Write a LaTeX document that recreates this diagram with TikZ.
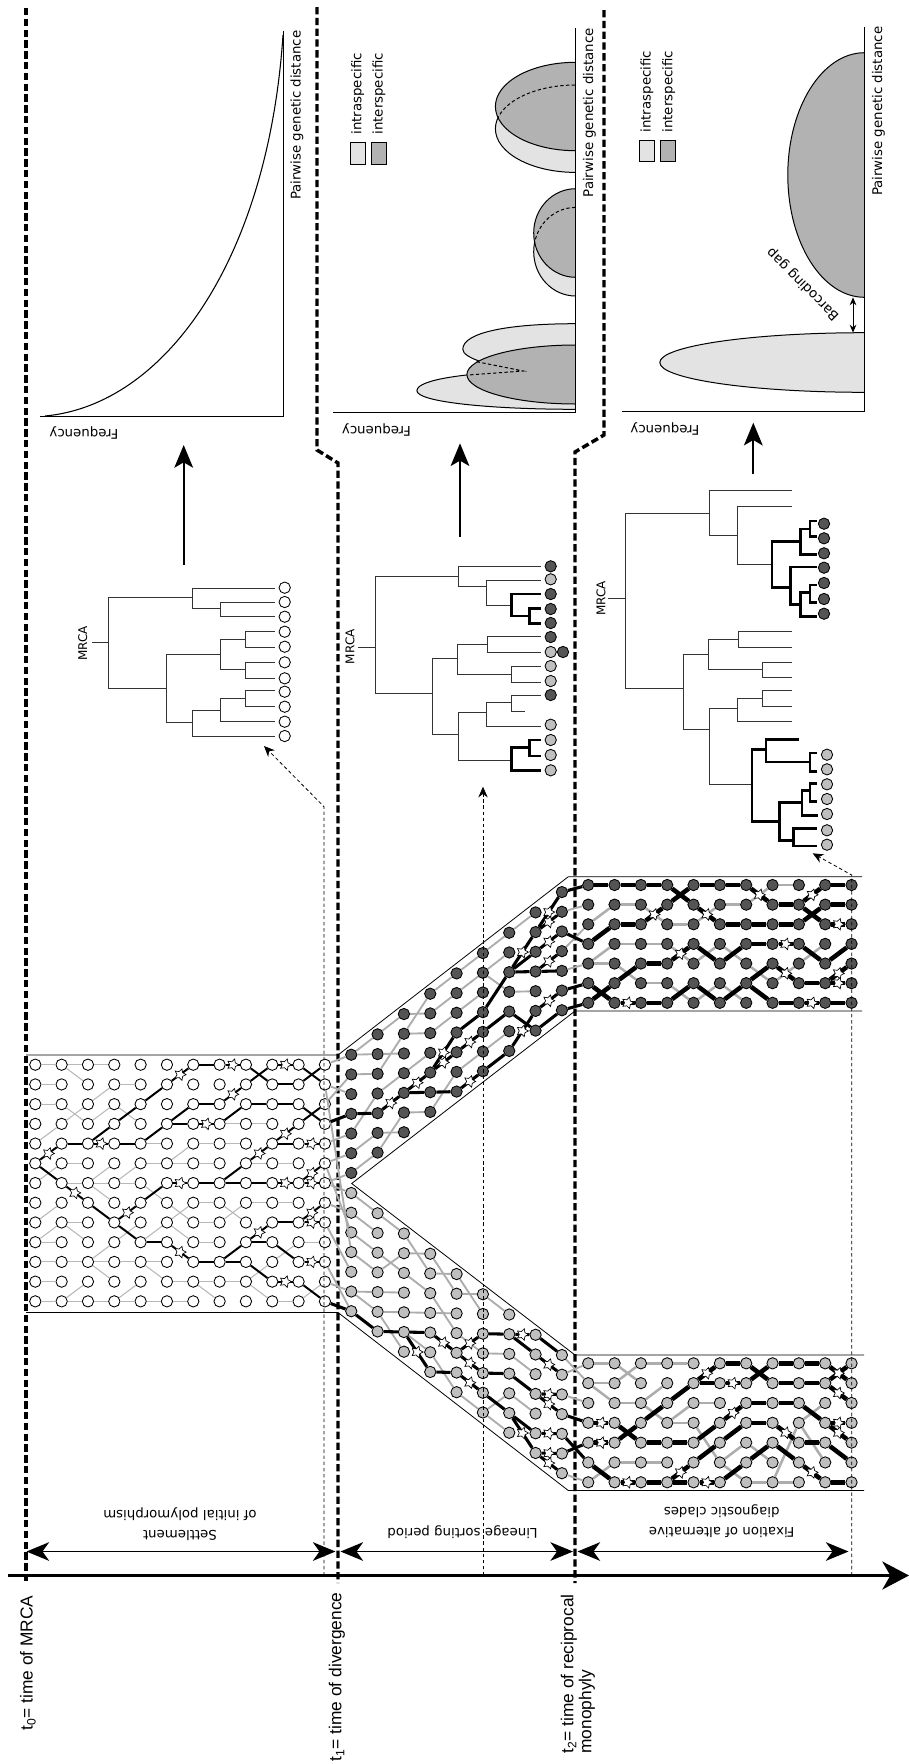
\documentclass[tikz,border=0pt]{standalone}
\usepackage{fontspec}
\setmainfont{DejaVu Sans}
\newfontfamily\timefont{Liberation Sans}
\usetikzlibrary{arrows.meta,shapes.geometric}

\tikzset{
  popnode/.style={circle,draw=black,line width=0.65pt,minimum size=8.5pt,inner sep=0pt},
  oldnode/.style={popnode,fill=white},
  darknode/.style={popnode,fill=black!67},
  palenode/.style={popnode,fill=black!25},
  starmark/.style={star,star points=5,star point ratio=1.9,minimum size=9pt,inner sep=0pt,draw=black,line width=0.5pt,fill=white,shape border rotate=-90},
  oldgrey/.style={line width=0.8pt,black!28},
  oldblack/.style={line width=1.5pt,black},
  midgrey/.style={line width=1.4pt,black!32},
  midblack/.style={line width=2.3pt,black},
  newgrey/.style={line width=1.9pt,black!32},
  newblack/.style={line width=3.4pt,black},
  bandline/.style={line width=0.6pt,black},
  timeline/.style={line width=2.6pt,dash pattern=on 5.5pt off 2.6pt},
  tiplink/.style={line width=0.6pt,dash pattern=on 2.6pt off 2pt,-{Stealth[length=8pt,width=7pt]}},
  spanarrow/.style={line width=0.9pt,{Stealth[length=17pt,width=14pt,inset=5pt]}-{Stealth[length=17pt,width=14pt,inset=5pt]}},
  bigarrow/.style={line width=1.5pt,-{Stealth[length=17pt,width=14pt,inset=4pt]}},
  treeline/.style={line width=0.75pt,black!80},
  treethick/.style={line width=2.1pt,black},
  axisline/.style={line width=0.75pt,black},
  lowbell/.style={draw=black,line width=0.75pt,fill=black!11},
  highbell/.style={draw=black,line width=0.75pt,fill=black!30},
  belldash/.style={line width=0.75pt,dash pattern=on 2.5pt off 1.8pt},
  timetext/.style={rotate=90,inner sep=0.75pt,font=\timefont\fontsize{13}{13.5}\selectfont}
}

\newcommand{\plainlinks}[3]{\foreach \cl/\ra/\rb in {#3}{\pgfmathtruncatemacro{\cn}{\cl+1}\draw[#2] (#1-\cl-\ra) -- (#1-\cn-\rb);}}
\newcommand{\starlinks}[3]{\foreach \cl/\ra/\rb in {#3}{\pgfmathtruncatemacro{\cn}{\cl+1}\draw[#2] (#1-\cl-\ra) -- node[starmark] (#1s-\cl-\ra-\rb) {} (#1-\cn-\rb);}}

\begin{document}
\begin{tikzpicture}[x=0.75pt,y=0.75pt,yscale=-1,xscale=1]
    \useasboundingbox (0,0) rectangle (909,1764);

    %Time lines
    \draw[timeline] (26,8) -- (26,1583);
    \draw[timeline] (317,7) -- (317,450) -- (338,463) -- (338,1583);
    \draw[timeline] (604,10) -- (604,435) -- (575,452) -- (575,1583);

    %Band outlines
    \draw[bandline] (26,1055) -- (338,1055) -- (568.3,876.7) -- (862,876.7);
    \draw[bandline] (26,1312.5) -- (338,1312.5) -- (568.3,1490.5) -- (864,1490.5);
    \draw[bandline] (862,1011) -- (575,1011) -- (351.7,1183.5) -- (575,1355) -- (864,1355);

    %Population nodes
    \foreach \cl in {0,...,11} \foreach \ro in {0,...,12}
      \node[oldnode] (a-\cl-\ro) at ({35.3+26.33*\cl},{1064.7+19.72*\ro}) {};
    \foreach \cl in {12,...,20} \foreach \ro in {0,...,6}
      \node[darknode] (d-\cl-\ro) at ({35.3+26.33*\cl},{1054.7+19.7*\ro-20.33*(\cl-12)}) {};
    \foreach \cl in {21,...,31} \foreach \ro in {0,...,6}
      \node[darknode] (d-\cl-\ro) at ({35.3+26.33*\cl},{885+19.63*\ro}) {};
    \foreach \cl in {12,...,20} \foreach \ro in {0,...,6}
      \node[palenode] (l-\cl-\ro) at ({35.3+26.33*\cl},{1193+19.7*\ro+20.25*(\cl-12)}) {};
    \foreach \cl in {21,...,31} \foreach \ro in {0,...,6}
      \node[palenode] (l-\cl-\ro) at ({35.3+26.33*\cl},{1363.3+19.83*\ro}) {};

    %Ancestral population
    \plainlinks{a}{oldgrey}{0/0/0,1/0/0,2/0/0,1/0/1,0/1/1,3/1/1,0/2/2,1/2/3,2/3/2,3/2/3,0/4/3,1/3/2,2/2/1,4/4/4,5/5/4,6/4/4,7/4/4,0/6/5,1/5/5,2/6/5,3/6/5,4/5/5,5/5/5,6/5/5,8/5/5,9/5/5,7/3/3,8/3/3,1/6/6,2/6/6,3/6/6,2/6/7,4/6/7,5/7/8,6/8/8,7/8/7,8/7/7,9/7/7,6/7/7,7/7/8,5/8/7,4/9/8,2/10/9,3/9/8,0/8/7,0/9/8,1/8/8,1/8/9,0/9/9,5/8/9,6/9/9,0/10/10,1/10/10,2/10/10,3/10/10,4/10/10,2/10/11,4/10/11,5/11/11,6/11/11,7/11/11,8/11/10,9/10/9,10/9/9,0/11/11,1/12/11,3/12/11,6/11/12,8/11/12,9/12/12,10/12/11,0/12/12,1/12/12,2/12/12,3/12/12,4/12/12,5/12/12}
    \plainlinks{a}{oldblack}{0/5/6,1/4/4,2/4/3,3/3/2,3/4/4,4/2/1,6/0/0,8/0/1,9/1/1,10/1/0,4/4/3,5/3/2,5/3/3,6/2/2,7/3/2,8/2/2,9/2/2,10/2/3,8/1/0,10/0/1,2/7/8,3/8/9,4/7/6,6/6/6,7/6/5,7/6/6,8/6/6,9/4/4,10/3/2,4/9/9,6/10/10,7/10/9,7/10/10,8/9/9,9/9/10,9/8/8,8/10/11,10/11/12}
    \starlinks{a}{oldblack}{0/5/4,1/6/7,2/4/4,5/1/0,7/0/0,7/2/1,9/0/0,6/3/3,3/8/7,5/6/6,8/5/4,9/4/3,10/4/4,9/6/6,10/6/5,10/6/6,5/9/10,8/9/8,10/8/7,10/8/8,10/10/10,9/11/11}

    %Split at divergence
    \foreach \ra/\rb in {0/0,1/2,2/1,4/4,5/5,6/6}
      \draw[midgrey] (a-11-\ra) -- (d-12-\rb);
    \foreach \ra/\rb in {6/0,7/1,5/2,1/3,8/4,11/5,10/6}
      \draw[midgrey] (a-11-\ra) -- (l-12-\rb);
    \draw[midblack] (a-11-3) -- (d-12-3);
    \draw[midblack] (a-11-12) -- (l-12-6);

    %Sorting, upper species
    \plainlinks{d}{midgrey}{12/0/0,12/0/1,12/1/2,12/4/3,12/5/5,12/6/6,13/0/0,13/1/2,13/2/1,13/3/3,13/5/6,13/6/5,14/0/1,14/1/2,14/3/3,14/5/6,14/1/0,15/1/1,15/0/0,15/2/2,15/6/5,16/0/0,16/1/1,16/2/2,16/5/5,17/0/0,17/1/1,17/1/3,17/5/5,18/0/0,18/3/4,20/1/1,20/3/2,20/4/4}
    \plainlinks{d}{midblack}{12/3/4,14/4/5,16/3/3,15/5/6,17/6/6,20/5/5,17/4/4,18/4/6,19/6/6,20/6/6,17/3/2,18/2/2,18/2/3,20/0/0,20/2/3,19/3/4}
    \starlinks{d}{midblack}{13/4/4,14/4/4,15/4/3,15/4/4,16/4/4,16/6/6,18/6/5,19/5/5,18/2/1,19/1/0,19/1/1,19/2/2,19/3/3}

    %Sorting, lower species
    \plainlinks{l}{midgrey}{12/0/0,12/1/1,12/2/2,12/3/3,12/5/4,12/5/5,13/0/0,13/2/2,13/3/1,13/4/3,13/5/4,13/5/6,14/0/1,14/1/0,14/2/2,14/4/3,14/5/5,15/0/1,15/1/0,15/2/3,15/3/2,15/5/6,16/0/1,16/1/0,16/3/3,16/6/6,17/0/0,17/3/2,17/6/4,17/6/6,18/2/2,18/4/4,20/0/1,20/1/0,20/2/2,20/6/6}
    \plainlinks{l}{midblack}{12/6/6,13/6/5,14/5/4,15/6/5,17/5/5,18/5/5,17/2/1,18/1/1,19/0/0,17/4/3,18/3/3,20/3/3,20/4/5,20/5/4}
    \starlinks{l}{midblack}{14/5/6,16/5/5,15/4/4,16/4/2,16/4/4,18/5/6,19/5/4,19/6/5,19/6/6,18/1/0,19/1/1,19/3/2,19/3/3}

    %Fixation, upper species
    \plainlinks{d}{newgrey}{21/2/1,22/1/1,23/1/2,24/2/2,25/2/1,26/1/1,27/1/0,28/0/0,21/4/3,22/3/3,23/3/3,24/3/4,25/4/3,26/3/4,27/4/5,28/5/4,29/4/3,21/4/4,22/4/5,23/5/5,24/5/6,25/6/5,26/5/6}
    \plainlinks{d}{newblack}{21/0/0,22/0/0,23/0/0,24/0/1,24/1/0,25/0/0,26/0/0,28/1/1,30/0/0,29/1/2,26/2/2,27/2/2,28/2/2,29/2/1,30/1/1,21/3/2,22/2/2,21/5/6,23/6/6,24/6/5,25/5/6,26/6/5,27/5/4,27/5/6,28/6/6,30/6/6,29/5/5,21/6/5,22/5/4,23/4/4,25/3/4,26/4/3,27/3/3,29/3/4,30/4/3}
    \starlinks{d}{newblack}{27/0/1,29/1/0,25/1/2,30/2/2,23/2/1,22/6/6,29/6/6,28/4/5,30/5/4,30/5/5,24/4/3,28/3/3}

    %Fixation, lower species
    \plainlinks{l}{newgrey}{21/0/0,22/0/1,21/1/1,22/1/0,23/0/0,24/0/0,23/2/1,21/1/2,22/2/2,23/2/3,24/3/2,25/2/2,24/3/3,25/3/5,26/5/4,27/4/5,26/5/6,27/6/6,28/6/6,28/6/3,29/3/2,29/3/5,21/6/5,22/5/5,23/5/5}
    \plainlinks{l}{newblack}{22/3/4,23/4/4,24/4/4,25/4/3,27/2/2,28/2/2,29/2/3,22/4/3,23/3/2,24/2/1,25/1/1,26/0/0,27/0/1,27/1/0,28/0/0,29/0/0,28/1/1,29/1/1,30/0/1,21/5/6,23/6/6,24/6/6,25/5/4,26/4/3,27/3/3,29/4/4,30/4/5,26/6/5,27/5/4,28/4/5,30/6/6}
    \starlinks{l}{newblack}{21/3/3,21/4/4,22/6/6,24/6/5,25/1/0,26/1/1,26/3/2,28/3/4,25/6/6,29/5/6,30/1/0,30/1/2,30/3/3,30/3/4}

    %Time axis and spans
    \draw[line width=2.2pt,-{Stealth[length=20pt,width=21pt,inset=6pt]}] (8,1575.5) -- (909,1575.5);
    \draw[spanarrow] (26.5,1551.5) -- (335.5,1551.5);
    \draw[spanarrow] (340.5,1551.5) -- (573,1551.5);
    \draw[spanarrow] (577.5,1551.5) -- (848.5,1551.5);

    %Dashed links to trees
    \coordinate (bendone) at (324,806.7);
    \coordinate (tipone) at (264,746);
    \coordinate (baseone) at (324,1575.5);
    \coordinate (basetwo) at (483,1575.5);
    \coordinate (tiptwo) at (483,786.7);
    \coordinate (basethree) at (851.7,1575.5);
    \coordinate (bendthree) at (851.7,875);
    \coordinate (tipthree) at (812.7,853.3);
    \draw[tiplink] (baseone) -- (bendone) -- (tipone);
    \draw[tiplink] (basetwo) -- (tiptwo);
    \draw[tiplink] (basethree) -- (bendthree) -- (tipthree);

    %Tree one
    \draw[treeline] (91.7,642.3) -- (108.7,642.3);
    \draw[treeline] (192.3,597.7) -- (108.7,597.7) -- (108.7,688.3) -- (166.7,688.3);
    \draw[treeline] (275,588.7) -- (192.3,588.7) -- (192.3,608.3) -- (220,608.3);
    \draw[treeline] (275,602.3) -- (220,602.3) -- (220,616.7) -- (275,616.7);
    \draw[treeline] (220.7,654.3) -- (166.7,654.3) -- (166.7,722.7) -- (192.3,722.7);
    \draw[treeline] (245.3,639.3) -- (220.7,639.3) -- (220.7,669.3) -- (245.3,669.3);
    \draw[treeline] (275,631.7) -- (245.3,631.7) -- (245.3,647) -- (275,647);
    \draw[treeline] (275,662.3) -- (245.3,662.3) -- (245.3,678) -- (275,678);
    \draw[treeline] (220.7,710) -- (192.3,710) -- (192.3,736) -- (275,736);
    \draw[treeline] (245.3,698.3) -- (220.7,698.3) -- (220.7,721.7) -- (275,721.7);
    \draw[treeline] (275,690.7) -- (245.3,690.7) -- (245.3,706.3) -- (275,706.3);
    \foreach \yy [count=\nn] in {587.7,602,616.7,631.7,646.7,662.3,678.3,691.7,706.7,721.7,736}
      \node[oldnode] (tipa-\nn) at (284.7,\yy) {};

    %Tree two
    \draw[treeline] (358.3,647) -- (375,647);
    \draw[treeline] (458.7,576) -- (375,576) -- (375,693.3) -- (432.7,693.3);
    \draw[treeline] (541,566.3) -- (458.7,566.3) -- (458.7,586.3) -- (486.3,586.3);
    \draw[treeline] (541,580) -- (486.3,580) -- (486.3,605) -- (511.7,605);
    \draw[treethick] (541,594) -- (511.7,594) -- (511.7,616) -- (529.3,616);
    \draw[treethick] (541,608.3) -- (529.3,608.3) -- (529.3,623.7) -- (541,623.7);
    \draw[treeline] (457,658.3) -- (432.7,658.3) -- (432.7,734.3) -- (458.7,734.3);
    \draw[treeline] (487.7,644) -- (457,644) -- (457,674.3) -- (511.7,674.3);
    \draw[treeline] (541,636.3) -- (487.7,636.3) -- (487.7,652) -- (541,652);
    \draw[treeline] (541,666.7) -- (511.7,666.7) -- (511.7,682.3) -- (541,682.3);
    \draw[treeline] (486.7,712.7) -- (458.7,712.7) -- (458.7,760) -- (511.7,760);
    \draw[treeline] (511.7,702.7) -- (486.7,702.7) -- (486.7,726) -- (541,726);
    \draw[treeline] (541,695.3) -- (511.7,695.3) -- (511.7,711) -- (525.3,711);
    \draw[treethick] (529.3,747.7) -- (511.7,747.7) -- (511.7,770.3) -- (541,770.3);
    \draw[treethick] (541,740) -- (529.3,740) -- (529.3,756) -- (541,756);
    \foreach \yy/\kind [count=\nn] in {566.3/darknode,579.3/palenode,594/darknode,609/darknode,623/darknode,637/darknode,652/palenode,666/palenode,681/palenode,695/darknode,724.7/palenode,740/palenode,755/palenode,770.3/palenode}
      \node[\kind] (tipb-\nn) at (550.7,\yy) {};
    \node[darknode] (tipb-extra) at (563,652) {};

    %Tree three
    \draw[treeline] (608.3,598.3) -- (625.7,598.3);
    \draw[treeline] (709.3,513.3) -- (625.7,513.3) -- (625.7,688.3) -- (683.7,688.3);
    \draw[treeline] (792,490.7) -- (709.3,490.7) -- (709.3,535.3) -- (737.3,535.3);
    \draw[treeline] (792,506.7) -- (737.3,506.7) -- (737.3,564) -- (772,564);
    \draw[treethick] (800.7,541.3) -- (772,541.3) -- (772,587.3) -- (790.7,587.3);
    \draw[treethick] (810,529) -- (800.7,529) -- (800.7,554.3) -- (816.7,554.3);
    \draw[treethick] (816.7,521) -- (810,521) -- (810,536.7) -- (816.7,536.7);
    \draw[treethick] (816.7,567) -- (790.7,567) -- (790.7,604.3) -- (800.7,604.3);
    \draw[treethick] (810,592.7) -- (800.7,592.7) -- (800.7,616.7) -- (816.7,616.7);
    \draw[treethick] (816.7,585) -- (810,585) -- (810,602.3) -- (816.7,602.3);
    \draw[treeline] (708,654) -- (683.7,654) -- (683.7,729.7) -- (709.3,729.7);
    \draw[treeline] (738.7,639) -- (708,639) -- (708,669.7) -- (762.7,669.7);
    \draw[treeline] (792,631.7) -- (738.7,631.7) -- (738.7,647.3) -- (792,647.3);
    \draw[treeline] (792,662.3) -- (762.7,662.3) -- (762.7,677.7) -- (792,677.7);
    \draw[treeline] (737.7,708.3) -- (709.3,708.3) -- (709.3,784.3) -- (752,784.3);
    \draw[treeline] (762.7,698.3) -- (737.7,698.3) -- (737.7,721.7) -- (792,721.7);
    \draw[treeline] (792,690.7) -- (762.7,690.7) -- (762.7,706.3) -- (792,706.3);
    \draw[treethick] (766,749.3) -- (752,749.3) -- (752,821.7) -- (779.3,821.7);
    \draw[treethick] (799.3,739.3) -- (766,739.3) -- (766,762) -- (810,762);
    \draw[treethick] (816.7,753) -- (810,753) -- (810,771.7) -- (816.7,771.7);
    \draw[treethick] (802,802.7) -- (779.3,802.7) -- (779.3,840.7) -- (793.3,840.7);
    \draw[treethick] (810,790.7) -- (802,790.7) -- (802,815.7) -- (817.7,815.7);
    \draw[treethick] (816.7,783.3) -- (810,783.3) -- (810,801.7) -- (816.7,801.7);
    \draw[treethick] (816.7,828.7) -- (793.3,828.7) -- (793.3,846) -- (816.7,846);
    \foreach \yy [count=\nn] in {523.7,538.3,553.3,567.7,583,599,613.7}
      \node[darknode] (tipc-\nn) at (824,\yy) {};
    \foreach \yy [count=\nn] in {754.7,769.3,784.3,799,814,830.3,844.7}
      \node[palenode] (tipd-\nn) at (827,\yy) {};

    %Arrows tree to chart
    \coordinate (treeoneout) at (183.7,565);
    \coordinate (chartonein) at (183.7,445);
    \coordinate (treetwoout) at (460,536.7);
    \coordinate (charttwoin) at (460,443.3);
    \coordinate (treethreeout) at (753.3,474);
    \coordinate (chartthreein) at (753.3,422.7);
    \draw[bigarrow] (treeoneout) -- (chartonein);
    \draw[bigarrow] (treetwoout) -- (charttwoin);
    \draw[bigarrow] (treethreeout) -- (chartthreein);

    %Chart one
    \draw[axisline] (283,30.7) -- (283,416) -- (39.5,416);
    \draw[line width=0.8pt] (283,35) .. controls (268,260) and (165,405) .. (45,416);

    %Chart two
    \draw[lowbell] (575.6,172.4) arc[start angle=90,end angle=270,x radius=80.2,y radius=43.7];
    \draw[highbell] (575.6,150.7) arc[start angle=90,end angle=270,x radius=80.2,y radius=44.2];
    \begin{scope}
      \clip (575.6,150.7) arc[start angle=90,end angle=270,x radius=80.2,y radius=44.2] -- cycle;
      \draw[belldash] (575.6,172.4) arc[start angle=90,end angle=270,x radius=80.2,y radius=43.7];
    \end{scope}
    \draw[lowbell] (575.6,296) arc[start angle=90,end angle=270,x radius=41.9,y radius=44.3];
    \draw[highbell] (575.6,277.3) arc[start angle=90,end angle=270,x radius=41.9,y radius=44.3];
    \begin{scope}
      \clip (575.6,277.3) arc[start angle=90,end angle=270,x radius=41.9,y radius=44.3] -- cycle;
      \draw[belldash] (575.6,296) arc[start angle=90,end angle=270,x radius=41.9,y radius=44.3];
    \end{scope}
    \draw[lowbell] (575.6,323.7) .. controls (510,323.7) and (462.8,332) .. (462.8,349.3) .. controls (462.8,358) and (490,366) .. (523.3,371) .. controls (470,373) and (416.9,379) .. (416.9,390.7) .. controls (416.9,402) and (490,409.3) .. (575.6,409.3);
    \draw[highbell] (575.6,404) arc[start angle=90,end angle=270,x radius=108.7,y radius=29.5];
    \draw[belldash] (476.7,361.7) -- (523.3,371) -- (468,375);
    \draw[axisline] (575.6,28) -- (575.6,412.7) -- (332.6,412.7);

    %Chart three
    \draw[highbell] (864.5,297.3) arc[start angle=90,end angle=270,x radius=76.7,y radius=122.3];
    \draw[lowbell] (864.5,392.3) arc[start angle=90,end angle=270,x radius=204.7,y radius=29.8];
    \draw[axisline] (864.5,26.7) -- (864.5,411.7) -- (622,411.7);
    \coordinate (gaptop) at (853,297.3);
    \coordinate (gapbase) at (853,332.7);
    \draw[line width=0.7pt,{Stealth[length=6pt,width=5pt]}-{Stealth[length=6pt,width=5pt]}] (gaptop) -- (gapbase);

    %Legends
    \draw[lowbell] (350.6,142.3) rectangle (365,164);
    \draw[highbell] (371.5,142.3) rectangle (386,164);
    \draw[lowbell] (639.5,140) rectangle (654,161.7);
    \draw[highbell] (660.5,140) rectangle (675,161.7);

    % Text Node
    \draw (84,432.7) node (freqa) [rotate=180][inner sep=0.75pt] {Frequency};
    % Text Node
    \draw (376.5,430) node (freqb) [rotate=180][inner sep=0.75pt] {Frequency};
    % Text Node
    \draw (665,429) node (freqc) [rotate=180][inner sep=0.75pt] {Frequency};
    % Text Node
    \draw (297,115.3) node (distc) [rotate=90][inner sep=0.75pt] {Pairwise genetic distance};
    % Text Node
    \draw (589.5,112.8) node (distb) [rotate=90][inner sep=0.75pt] {Pairwise genetic distance};
    % Text Node
    \draw (878.5,111.3) node (dista) [rotate=90][inner sep=0.75pt] {Pairwise genetic distance};
    % Text Node
    \draw (357.6,93.8) node (intrab) [rotate=90][inner sep=0.75pt] {intraspecific};
    % Text Node
    \draw (379,93.8) node (interb) [rotate=90][inner sep=0.75pt] {interspecific};
    % Text Node
    \draw (647,91.7) node (intrac) [rotate=90][inner sep=0.75pt] {intraspecific};
    % Text Node
    \draw (668.6,91.7) node (interc) [rotate=90][inner sep=0.75pt] {interspecific};
    % Text Node
    \draw (803,284) node (gaplabel) [rotate=135][inner sep=0.75pt] {Barcoding gap};
    % Text Node
    \draw (82.7,643.3) node (mrcaa) [rotate=90][inner sep=0.75pt][font=\small] {MRCA};
    % Text Node
    \draw (350,646.7) node (mrcab) [rotate=90][inner sep=0.75pt][font=\small] {MRCA};
    % Text Node
    \draw (601,598.3) node (mrcac) [rotate=90][inner sep=0.75pt][font=\small] {MRCA};
    % Text Node
    \draw (180,1524) node (settle) [rotate=180][inner sep=0.75pt][align=center] {Settlement\\[2.8pt]of initial polymorphism};
    % Text Node
    \draw (462.5,1532) node (sorting) [rotate=180][inner sep=0.75pt] {Lineage sorting period};
    % Text Node
    \draw (721.7,1521) node (fixing) [rotate=180][inner sep=0.75pt][align=center] {Fixation of alternative\\[2.8pt]diagnostic clades};
    % Text Node
    \draw (28,1663) node (tzero) [timetext] {t\textsubscript{0}= time of MRCA};
    % Text Node
    \draw (337,1677) node (tone) [timetext] {t\textsubscript{1}= time of divergence};
    % Text Node
    \draw (578,1674) node (ttwo) [timetext][align=left] {t\textsubscript{2}= time of reciprocal\\monophyly};

\end{tikzpicture}
\end{document}
